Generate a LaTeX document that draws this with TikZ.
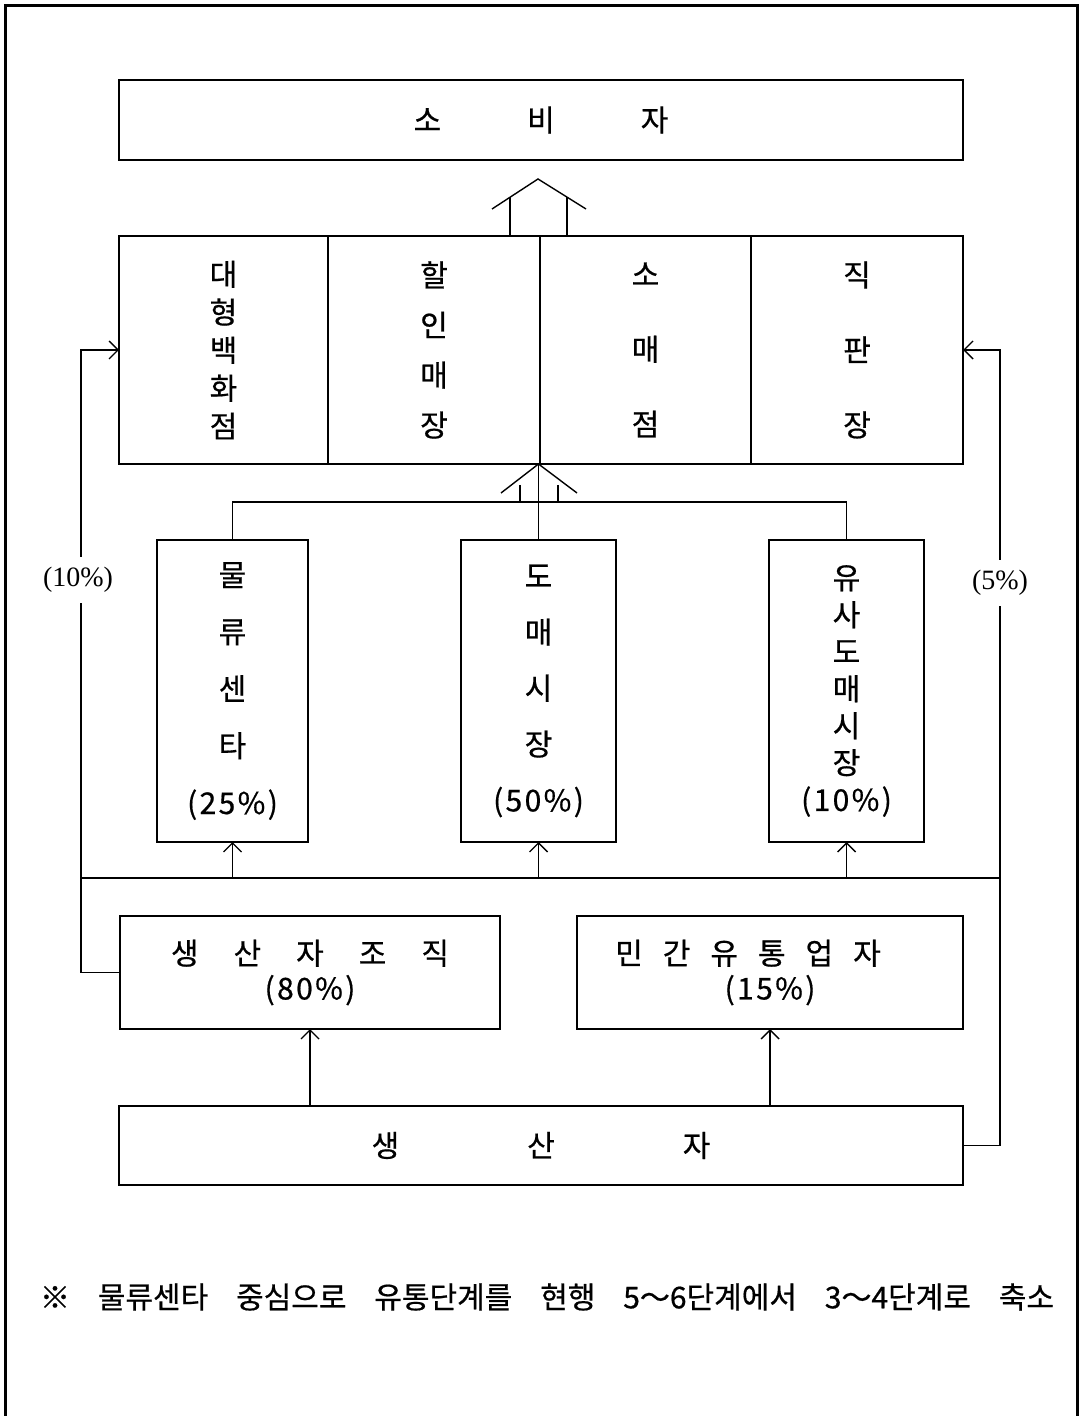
\documentclass[tikz,border=0pt]{standalone}
\usepackage{fontspec}
\setmainfont{Liberation Serif}
\newfontfamily\kr[FakeBold=0.6]{Noto Sans CJK KR}
\newfontfamily\krpct[LetterSpace=8,FakeBold=0.6]{Noto Sans CJK KR}
\usetikzlibrary{arrows.meta,positioning}

\newcommand\pct[1]{{\krpct(#1\%)}}

\tikzset{
  box/.style={draw, line width=1pt, inner sep=0pt, outer sep=0pt, align=center,
    font=\kr\fontsize{15}{15}\selectfont},
  stack/.style={box, font=\kr\fontsize{15}{#1}\selectfont},
  flow/.style={line width=0.7pt},
  tip/.style={flow, -{Straight Barb[length=4.5pt,width=9pt]}},
  share/.style={fill=white, inner xsep=1pt, inner ysep=5pt, font=\fontsize{14}{14}\selectfont},
}

\begin{document}
\begin{tikzpicture}[x=0.5pt, y=-0.5pt]
  \useasboundingbox (0,0) rectangle (1080,1416);

  % Rahmen
  \draw [line width=1.5pt] (5,1420) |- (1077,6) -- (1077,1420);

  % Verbraucher
  \node [box, minimum width=422pt, minimum height=40pt] (cons) at (541,120)
    {소\hspace{43pt}비\hspace{43pt}자};

  % Einzelhandel
  \node [stack=19pt, minimum width=104.5pt, minimum height=114pt] (dept) at (223.5,350)
    {대\\형\\백\\화\\점};
  \node [stack=25pt, minimum width=106pt, minimum height=114pt, right=0pt of dept] (disc)
    {할\\인\\매\\장};
  \node [stack=37.5pt, minimum width=105.5pt, minimum height=114pt, right=0pt of disc] (retail)
    {소\\매\\점};
  \node [stack=37.5pt, minimum width=106pt, minimum height=114pt, right=0pt of retail] (direct)
    {직\\판\\장};

  % Grosshandel
  \node [stack=28.5pt, minimum width=75.5pt, minimum height=151pt] (logis) at (232.5,691)
    {물\\류\\센\\타\\\pct{25}};
  \node [stack=28pt, minimum width=77.5pt, minimum height=151pt] (whole) at (538.5,691)
    {도\\매\\시\\장\\\pct{50}};
  \node [stack=18.5pt, minimum width=77.5pt, minimum height=151pt] (quasi) at (846.5,691)
    {유\\사\\도\\매\\시\\장\\\pct{10}};

  % Erzeuger
  \node [stack=17.5pt, minimum width=190pt, minimum height=56.5pt] (prodorg) at (310,972.5)
    {생\hspace{17.5pt}산\hspace{17.5pt}자\hspace{17.5pt}조\hspace{17.5pt}직\\\pct{80}};
  \node [stack=17.5pt, minimum width=193pt, minimum height=56.5pt] (private) at (770,972.5)
    {\hspace*{-22pt}민\hspace{10pt}간\hspace{10pt}유\hspace{10pt}통\hspace{10pt}업\hspace{10pt}자\\\pct{15}};
  \node [box, minimum width=422pt, minimum height=39.5pt] (prod) at (541,1145.5)
    {생\hspace{64pt}산\hspace{64pt}자};

  % Dach-Pfeile
  \draw [flow] (492,209) -- (538,179) -- (586,209);
  \draw [flow] (510,197.3) -- (510,236) (567,197.1) -- (567,236);
  \draw [flow] (501,493) -- (whole.north |- dept.south) -- (577,493);
  \draw [flow] (520,485) -- (520,502) (558,485) -- (558,502);

  % Verteiler oben
  \coordinate (hub) at (538,502);
  \draw [flow] (logis.north) -- (logis.north |- hub) -- (quasi.north |- hub) -- (quasi.north);
  \draw [flow] (whole.north) -- (whole.north |- dept.south);

  % Verteiler unten
  \coordinate (busL) at (81,878);
  \coordinate (busR) at (1000,878);
  \draw [flow] (busL) -- (busR);
  \draw [tip] (logis.south |- busL) -- (logis.south);
  \draw [tip] (whole.south |- busL) -- (whole.south);
  \draw [tip] (quasi.south |- busL) -- (quasi.south);

  % Seitenwege
  \draw [tip] (prodorg.west) -- ++(-39,0) |- (dept.west);
  \draw [tip] (prod.east) -- ++(37,0) |- (direct.east);
  \node [share] (leftshare) at (78,580) {(10\%)};
  \node [share] (rightshare) at (1000,583) {(5\%)};

  % Erzeuger nach oben
  \draw [tip] (prodorg.south |- prod.north) -- (prodorg.south);
  \draw [tip] (private.south |- prod.north) -- (private.south);

  % Fussnote
  \node [font=\kr\fontsize{15}{15}\selectfont, inner sep=0pt] (note) at (547,1297)
    {\makebox[507pt][s]{※ 물류센타 중심으로 유통단계를 현행 5～6단계에서 3～4단계로 축소}};
\end{tikzpicture}
\end{document}
